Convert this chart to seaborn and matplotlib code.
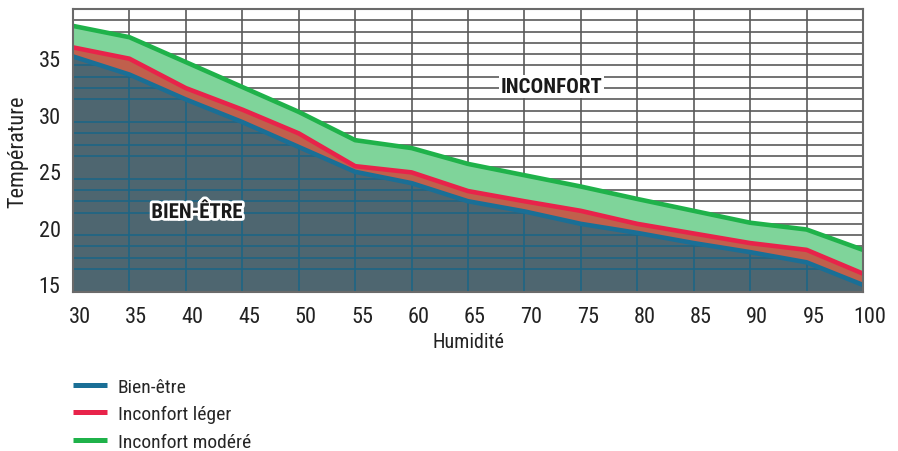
import numpy as np
import pandas as pd
import matplotlib
matplotlib.use("Agg")
import matplotlib.pyplot as plt
import matplotlib.patheffects as pe
from matplotlib.transforms import ScaledTranslation
import seaborn as sns

sns.set_theme(style="white")
plt.rcParams['font.family'] = ['Roboto Condensed', 'PT Sans Narrow', 'DejaVu Sans']

# data
humidite = [30, 35, 40, 45, 50, 55, 60, 65, 70, 75, 80, 85, 90, 95, 100]
bien_etre = [34.8, 33.2, 31.0, 29.0, 26.8, 24.6, 23.6, 22.0, 21.1, 20.0, 19.2, 18.3, 17.5, 16.6, 14.6]
inconfort_leger = [35.6, 34.6, 32.0, 30.1, 28.0, 25.1, 24.55, 22.9, 22.0, 21.15, 20.0, 19.15, 18.3, 17.7, 15.6]
inconfort_modere = [37.5, 36.5, 34.3, 32.1, 29.9, 27.4, 26.7, 25.3, 24.3, 23.3, 22.2, 21.15, 20.1, 19.5, 17.7]
series_names = ["Bien-être", "Inconfort léger", "Inconfort modéré"]
y_ticks = [15, 20, 25, 30, 35]

line_colors = ["#1a6f96", "#e8234a", "#1fb24a"]

df = pd.DataFrame({"Humidité": humidite,
                   "Bien-être": bien_etre,
                   "Inconfort léger": inconfort_leger,
                   "Inconfort modéré": inconfort_modere})
long_df = df.melt(id_vars="Humidité", var_name="serie", value_name="Température")

fig = plt.figure(figsize=(8.98, 4.52), dpi=100)
ax = fig.add_axes([0.0813, 0.3524, 0.961 - 0.0813, 0.978 - 0.3524])

ax.set_xlim(30, 100)
ax.set_ylim(14, 39)

# grid: every 5 on x, every 1 on y
ax.set_xticks(humidite)
ax.set_yticks(y_ticks)
ax.set_yticks(np.arange(14, 40), minor=True)
ax.grid(True, which="both", color="#5a5a5a", linewidth=1.2, zorder=0)
ax.set_axisbelow(True)

# filled zones
dark = ax.fill_between(df["Humidité"], 14, df["Bien-être"], color="#4e6670", zorder=1, linewidth=0)
ax.fill_between(df["Humidité"], df["Bien-être"], df["Inconfort léger"], color="#c0604c", zorder=1, linewidth=0)
ax.fill_between(df["Humidité"], df["Inconfort léger"], df["Inconfort modéré"], color="#7fd49a", zorder=1, linewidth=0)

# bluish grid lines inside the dark zone
clip_path = dark.get_paths()[0]
hl = ax.hlines(ax.get_yticks(minor=True), 30, 100, color="#1d6585", linewidth=1.2, zorder=1.5)
vl = ax.vlines(humidite, 14, 39, color="#1d6585", linewidth=1.2, zorder=1.5)
hl.set_clip_path(clip_path, ax.transData)
vl.set_clip_path(clip_path, ax.transData)

sns.lineplot(data=long_df, x="Humidité", y="Température", hue="serie",
             palette=line_colors, hue_order=series_names, linewidth=3.3,
             ax=ax, zorder=3, legend=True)

for s in ax.spines.values():
    s.set_color("#6a6a6a")
    s.set_linewidth(1.5)
    s.set_zorder(4)

ax.tick_params(axis="both", which="both", length=0, labelsize=16, colors="#222222")
ax.tick_params(axis="x", pad=10)
ax.tick_params(axis="y", pad=9)
for lab in ax.get_xticklabels():
    lab.set_transform(lab.get_transform() + ScaledTranslation(7 / 100, 0, fig.dpi_scale_trans))
for lab in ax.get_yticklabels():
    lab.set_transform(lab.get_transform() + ScaledTranslation(0, -4 / 100, fig.dpi_scale_trans))

ax.set_xlabel("Humidité", fontsize=14.5, color="#222222", labelpad=4)
ax.set_ylabel("Température", fontsize=16, color="#222222", labelpad=7)

ax.text(72.4, 32.15, "INCONFORT", fontsize=15, fontweight="bold", color="#1a1a1a",
        ha="center", va="center", zorder=5,
        bbox=dict(facecolor="white", edgecolor="none", pad=1.5))
ax.text(41, 21.0, "BIEN-ÊTRE", fontsize=15, fontweight="bold", color="#1a1a1a",
        ha="center", va="center", zorder=5,
        path_effects=[pe.withStroke(linewidth=4, foreground="white")])

handles, labels = ax.get_legend_handles_labels()
ax.legend_.remove()
leg = fig.legend(handles, labels, loc="upper left", bbox_to_anchor=(0.0813, 0.162),
                 frameon=False, fontsize=14, handlelength=1.75, handletextpad=0.55,
                 labelspacing=0.48, borderaxespad=0, borderpad=0)
for h in leg.get_lines():
    h.set_linewidth(3.6)
    h.set_solid_capstyle("butt")

fig.savefig("out.png", dpi=100)
